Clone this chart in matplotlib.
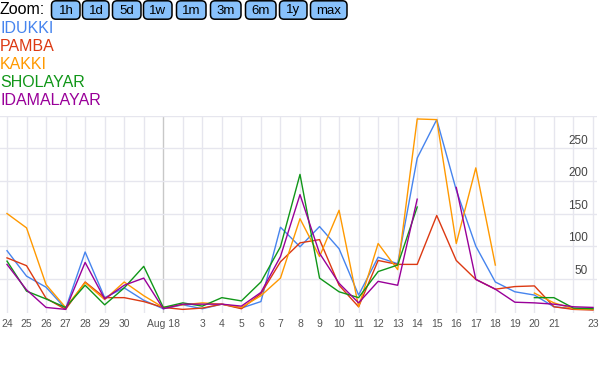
import numpy as np
import matplotlib
matplotlib.use("Agg")
import matplotlib.pyplot as plt
from matplotlib.patches import FancyBboxPatch

nan = np.nan

# Jul 24 .. Aug 23 (one value per day)
tick_labels = ["24", "25", "26", "27", "28", "29", "30", "", "Aug 18", "",
               "3", "4", "5", "6", "7", "8", "9", "10", "11", "12", "13",
               "14", "15", "16", "17", "18", "19", "20", "21", "", "23"]

series_names = ["IDUKKI", "PAMBA", "KAKKI", "SHOLAYAR", "IDAMALAYAR"]
series_colors = ["#4684ee", "#dc3912", "#ff9900", "#109618", "#990099"]

idukki = [93, 54, 37, 4, 91, 21, 36, 17,
          4, 10, 4, 11, 5, 15, 129, 99, 130, 96, 25, 83, 73, 235, 294, 186,
          100, 45, 30, 25, 7, 4, 5]
pamba = [82, 70, 20, 3, 45, 21, 21, 15,
         6, 3, 5, 11, 4, 27, 76, 105, 110, 40, 7, 78, 72, 72, 147, 78,
         49, 34, 38, 39, 7, 3, 2]
kakki = [150, 128, 41, 6, 44, 18, 45, 24,
         6, 10, 13, 11, 6, 24, 51, 142, 84, 155, 7, 104, 64, 295, 294, 104,
         220, 71, nan, 28, 13, 4, 3]
sholayar = [77, 31, 19, 6, 40, 10, 36, 69,
            6, 13, 8, 21, 16, 45, 99, 210, 51, 30, 21, 61, 71, 160, nan, nan,
            nan, nan, nan, 21, 21, 5, 4]
idamalayar = [72, 33, 6, 3, 75, 19, 40, 51,
              4, 11, 11, 11, 8, 29, 84, 179, 89, 43, 13, 46, 40, 172, nan, 190,
              49, 34, 14, 13, 11, 7, 6]

zoom_buttons = ["1h", "1d", "5d", "1w", "1m", "3m", "6m", "1y", "max"]
button_x = [51, 82, 112, 143, 176, 210, 245, 279, 310]
button_w = [30, 28, 30, 30, 31, 32, 32, 29, 38]

W, H = 600, 371
fig = plt.figure(figsize=(W / 100, H / 100), dpi=100)

# plot area in pixels: x 0..597, y 115.7 (300) .. 313.3 (-3)
px_per_day = 586 / 30
x0 = -7 / px_per_day
x1 = (597 - 7) / px_per_day
ax = fig.add_axes([0, (H - 313.3) / H, 597 / W, (313.3 - 115.7) / H])
ax.set_xlim(x0, x1)
ax.set_ylim(-3, 300)
for s in ax.spines.values():
    s.set_visible(False)

days = np.arange(len(tick_labels))
for d in days:
    c = "#c8c8c8" if tick_labels[d] == "Aug 18" else "#e6e6ee"
    ax.axvline(d, color=c, lw=1, zorder=0)
for v in range(50, 301, 50):
    ax.axhline(v, color="#e6e6ee", lw=1, zorder=0)

data = [idukki, pamba, kakki, sholayar, idamalayar]
for vals, col in zip(data, series_colors):
    ax.plot(days, np.array(vals, dtype=float), color=col, lw=1.0, clip_on=False)

ax.set_xticks(days)
ax.set_xticklabels(tick_labels, fontsize=7.5, color="#555555",
                   family="Liberation Sans")
ax.tick_params(axis="x", length=0, pad=4)
ax.set_yticks([])
for v in range(50, 251, 50):
    ax.text(x1 - 9 / px_per_day, v + 2.5, str(v), ha="right", va="bottom",
            fontsize=8.5, color="#444444", family="Liberation Sans")

# header overlay in pixel coordinates
ov = fig.add_axes([0, 0, 1, 1], zorder=5)
ov.set_xlim(0, W)
ov.set_ylim(H, 0)
ov.axis("off")
ov.text(0, 10, "Zoom:", fontsize=11.5, va="center", ha="left",
        family="Liberation Sans", color="black")
for lab, bx, bw in zip(zoom_buttons, button_x, button_w):
    ov.add_patch(FancyBboxPatch((bx + 0.5, 0.8), bw - 1.5, 18.4,
                                boxstyle="round,pad=0,rounding_size=4.5",
                                fc="#88c1fb", ec="black", lw=1.1))
    ov.text(bx + bw / 2, 10.5, lab, fontsize=9.5, ha="center", va="center",
            family="Liberation Sans", color="black")

for i, (name, col) in enumerate(zip(series_names, series_colors)):
    ov.text(0, 28.5 + i * 17.9, name, fontsize=11.5, va="center", ha="left",
            family="Liberation Sans", color=col)

fig.savefig("out.png", dpi=100)
